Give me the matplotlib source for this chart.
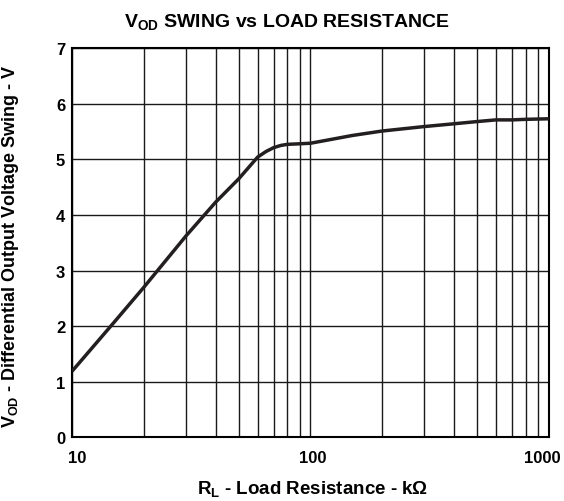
import matplotlib
matplotlib.use("Agg")
import matplotlib.pyplot as plt
import matplotlib.transforms as mtransforms
from matplotlib.ticker import FixedLocator, NullFormatter

plt.rcParams['font.family'] = 'Liberation Sans'
plt.rcParams['font.weight'] = 'bold'
plt.rcParams['mathtext.fontset'] = 'custom'
plt.rcParams['mathtext.rm'] = 'Liberation Sans:bold'
plt.rcParams['mathtext.it'] = 'Liberation Sans:bold'
plt.rcParams['mathtext.bf'] = 'Liberation Sans:bold'

# load resistance (kOhm) and output swing (V)
r_load = [10, 15, 20, 30, 40, 50, 60, 65, 70, 75, 80, 90, 100, 150, 200, 300, 400, 500, 600, 700, 800, 1000]
v_od = [1.19, 2.07, 2.70, 3.62, 4.23, 4.65, 5.04, 5.14, 5.21, 5.25, 5.27, 5.28, 5.29, 5.43, 5.51, 5.59, 5.64, 5.68, 5.71, 5.71, 5.72, 5.73]

x_ticks = [10, 100, 1000]
x_grid = [m * d for d in (10, 100) for m in range(2, 10)]
y_ticks = list(range(0, 8))

fig, ax = plt.subplots(figsize=(5.64, 5.02), dpi=100)
fig.subplots_adjust(left=0.128, right=0.973, top=0.902, bottom=0.127)

ax.plot(r_load, v_od, color='#231f20', lw=2.5, solid_capstyle='butt', zorder=3)

ax.set_xscale('log')
ax.set_xlim(10, 1000)
ax.set_ylim(0, 7)
ax.xaxis.set_major_locator(FixedLocator(x_ticks))
ax.xaxis.set_minor_locator(FixedLocator(x_grid))
ax.xaxis.set_minor_formatter(NullFormatter())
ax.set_xticklabels([str(t) for t in x_ticks])
ax.set_yticks(y_ticks)
ax.tick_params(which='both', length=0, labelsize=12)
ax.tick_params(axis='x', pad=9)
ax.tick_params(axis='y', pad=5)
ax.grid(which='both', color='#1a1a1a', lw=1.0)
for s in ax.spines.values():
    s.set_linewidth(1.5)

# nudge the decade labels like in the original
for lab, dx in zip(ax.get_xticklabels(), [5, 2, -6]):
    lab.set_transform(lab.get_transform() + mtransforms.ScaledTranslation(dx / 100, 0, fig.dpi_scale_trans))

fig.text(0.508, 0.947, r'V$_{\mathrm{OD}}$ SWING vs LOAD RESISTANCE', fontsize=14,
         fontweight='bold', ha='center', va='baseline')
fig.text(0.554, 0.016, r'R$_{\mathrm{L}}$ - Load Resistance - k$\Omega$', fontsize=13.5,
         fontweight='bold', ha='center', va='baseline')
fig.text(0.019, 0.51, r'V$_{\mathrm{OD}}$ - Differential Output Voltage Swing - V', fontsize=13,
         fontweight='bold', ha='center', va='center', rotation=90)

fig.savefig('out.png', dpi=100)
